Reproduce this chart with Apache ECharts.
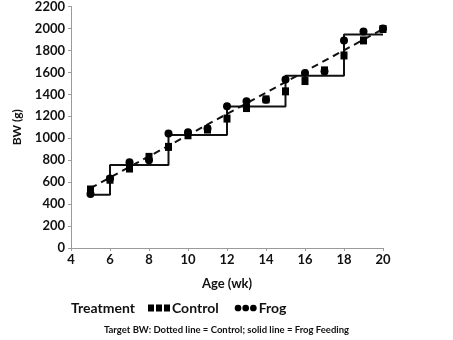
<!DOCTYPE html>
<html><head><meta charset="utf-8">
<script src="https://cdn.jsdelivr.net/npm/echarts@6/dist/echarts.min.js"></script>
<style>html,body{margin:0;padding:0;background:#fff}#c{width:453px;height:340px}</style>
</head><body><div id="c"></div>
<script>
var weeks = [5,6,7,8,9,10,11,12,13,14,15,16,17,18,19,20];
var controlBW = [533,622,724,830,921,1027,1079,1179,1275,1354,1427,1521,1618,1754,1891,1995];
var frogBW = [491,632,782,800,1042,1054,1088,1291,1336,1350,1536,1594,1610,1891,1973,2000];
var controlTargetWeeks = [5,20];
var controlTargetBW = [545,1995];
var frogTargetWeeks = [5,6,9,12,15,18,20];
var frogTargetBW = [485,755,1030,1290,1570,1945,1945];
var xTicks = {min:4,max:20,interval:2};
var yTicks = {min:0,max:2200,interval:200};

function pairs(xs, ys){ return xs.map(function(x,i){return [x, ys[i]];}); }
var F = 'Lato, "Open Sans", sans-serif';
var chart = echarts.init(document.getElementById('c'));
chart.setOption({
  animation:false,
  backgroundColor:'#fff',
  textStyle:{fontFamily:F},
  grid:{left:71,right:70,top:6,bottom:92,containLabel:false},
  title:[
    {text:'Treatment',left:66,top:296,textStyle:{fontFamily:F,fontSize:14,fontWeight:'bold',color:'#111'}},
    {text:'Target BW: Dotted line = Control; solid line = Frog Feeding',left:'center',top:320,
     textStyle:{fontFamily:F,fontSize:9.5,fontWeight:'bold',color:'#111'}}
  ],
  legend:{
    data:[
      {name:'Control',icon:'path://M0,0h6v7h-6z M8,0h6v7h-6z M16,0h6v7h-6z'},
      {name:'Frog',icon:'path://M0,3.5a3.5,3.5 0 1,0 7,0a3.5,3.5 0 1,0 -7,0z M8,3.5a3.5,3.5 0 1,0 7,0a3.5,3.5 0 1,0 -7,0z M16,3.5a3.5,3.5 0 1,0 7,0a3.5,3.5 0 1,0 -7,0z'}
    ],
    left:143,top:296,itemWidth:22,itemHeight:7,itemGap:16,
    textStyle:{fontFamily:F,fontSize:14,fontWeight:'bold',color:'#111',padding:[0,0,0,-3]},
    itemStyle:{color:'#000',opacity:1}
  },
  xAxis:{
    type:'value',min:xTicks.min,max:xTicks.max,interval:xTicks.interval,
    name:'Age (wk)',nameLocation:'middle',nameGap:29,
    nameTextStyle:{fontFamily:F,fontSize:13,fontWeight:'bold',color:'#111'},
    axisLine:{lineStyle:{color:'#9a9a9a',width:1}},
    axisTick:{show:true,length:3,lineStyle:{color:'#9a9a9a'}},
    axisLabel:{fontFamily:F,fontSize:13,fontWeight:'bold',color:'#111',margin:5},
    splitLine:{show:false}
  },
  yAxis:{
    type:'value',min:yTicks.min,max:yTicks.max,interval:yTicks.interval,
    name:'BW (g)',nameLocation:'middle',nameGap:48,nameRotate:90,
    nameTextStyle:{fontFamily:F,fontSize:12,fontWeight:'bold',color:'#111'},
    axisLine:{show:true,lineStyle:{color:'#9a9a9a',width:1}},
    axisTick:{show:true,length:3,lineStyle:{color:'#9a9a9a'}},
    axisLabel:{fontFamily:F,fontSize:13,fontWeight:'bold',color:'#111',margin:6,
      formatter:function(v){return String(v);}},
    splitLine:{show:false}
  },
  series:[
    {name:'Frog target',type:'line',step:'end',data:pairs(frogTargetWeeks,frogTargetBW),
     showSymbol:false,symbol:'none',lineStyle:{color:'#111',width:2},silent:true,z:2},
    {name:'Control target',type:'line',data:pairs(controlTargetWeeks,controlTargetBW),
     showSymbol:false,symbol:'none',lineStyle:{color:'#111',width:2,type:[7,5]},silent:true,z:2},
    {name:'Frog',type:'scatter',data:pairs(weeks,frogBW),symbol:'circle',symbolSize:8,
     itemStyle:{color:'#000',opacity:1},z:3},
    {name:'Control',type:'scatter',data:pairs(weeks,controlBW),symbol:'rect',symbolSize:[7,8],
     itemStyle:{color:'#000',opacity:1},z:4}
  ]
});
</script></body></html>
